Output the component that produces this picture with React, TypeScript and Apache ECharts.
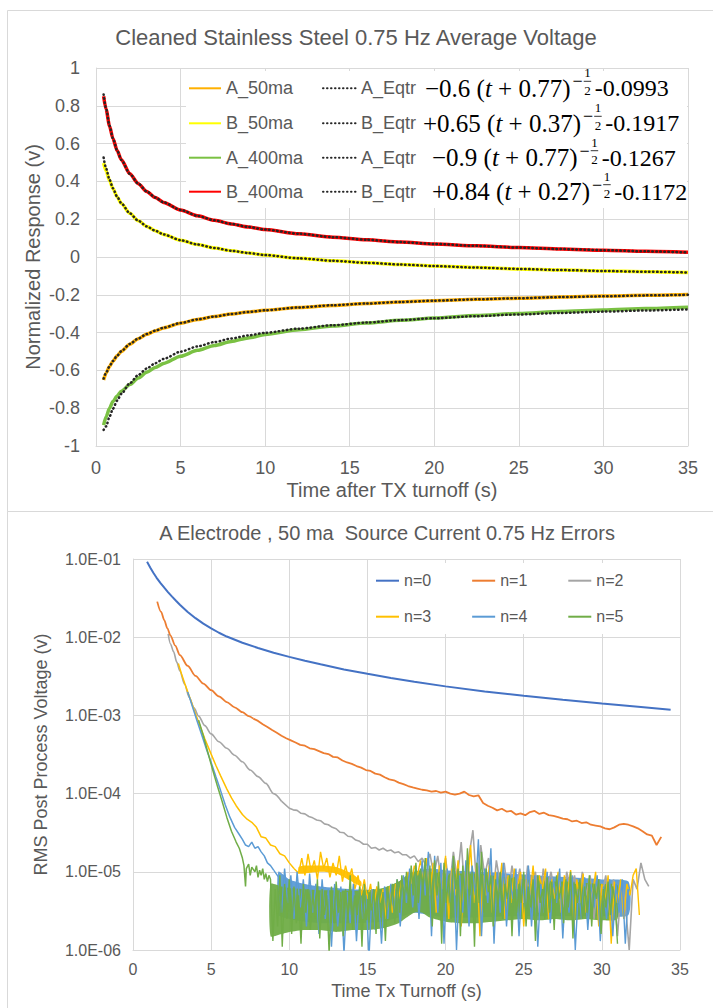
import React, { useEffect, useRef } from "react";
import * as echarts from "echarts";

const SANS = "'Liberation Sans', Arial, sans-serif";
const SERIF = "'Liberation Serif', 'Times New Roman', serif";
const GRID_C = "#D9D9D9";
const TXT_C = "#595959";

// ---------------- Top chart data ----------------
const topTitle = "Cleaned Stainless Steel 0.75 Hz Average Voltage";
const topXName = "Time after TX turnoff (s)";
const topYName = "Normalized Response (v)";
const topTimes = [0.45, 0.6, 0.8, 1, 1.25, 1.5, 2, 2.5, 3, 3.5, 4, 5, 6, 7, 8, 9, 10, 12, 14, 16, 18, 20, 22.5, 25, 27.5, 30, 32.5, 35];
const a50ma = [-0.651, -0.614, -0.579, -0.551, -0.523, -0.499, -0.461, -0.432, -0.409, -0.391, -0.375, -0.35, -0.331, -0.315, -0.302, -0.291, -0.282, -0.267, -0.256, -0.246, -0.238, -0.231, -0.224, -0.218, -0.212, -0.207, -0.203, -0.199];
const b50ma = [0.497, 0.455, 0.405, 0.362, 0.318, 0.283, 0.231, 0.192, 0.162, 0.139, 0.119, 0.089, 0.066, 0.048, 0.033, 0.021, 0.01, -0.007, -0.02, -0.031, -0.04, -0.048, -0.056, -0.063, -0.069, -0.074, -0.078, -0.082];
const a400ma = [-0.89, -0.845, -0.8, -0.765, -0.735, -0.71, -0.675, -0.64, -0.61, -0.585, -0.563, -0.525, -0.494, -0.468, -0.447, -0.428, -0.41, -0.385, -0.365, -0.349, -0.335, -0.323, -0.31, -0.299, -0.289, -0.281, -0.273, -0.266];
const b400ma = [0.85, 0.78, 0.693, 0.627, 0.563, 0.514, 0.44, 0.388, 0.347, 0.315, 0.289, 0.249, 0.218, 0.194, 0.175, 0.159, 0.145, 0.123, 0.105, 0.091, 0.079, 0.069, 0.059, 0.05, 0.042, 0.036, 0.03, 0.025];
const aEqtr50 = [-0.643, -0.612, -0.578, -0.55, -0.522, -0.498, -0.46, -0.431, -0.408, -0.39, -0.374, -0.349, -0.33, -0.315, -0.302, -0.291, -0.282, -0.267, -0.255, -0.246, -0.238, -0.231, -0.224, -0.218, -0.212, -0.208, -0.203, -0.2];
const bEqtr50 = [0.526, 0.468, 0.409, 0.364, 0.319, 0.284, 0.231, 0.192, 0.162, 0.139, 0.119, 0.089, 0.066, 0.048, 0.033, 0.021, 0.01, -0.007, -0.02, -0.031, -0.04, -0.048, -0.056, -0.063, -0.069, -0.074, -0.078, -0.082];
const aEqtr400 = [-0.915, -0.896, -0.845, -0.803, -0.76, -0.724, -0.668, -0.624, -0.59, -0.562, -0.539, -0.501, -0.473, -0.45, -0.431, -0.415, -0.401, -0.379, -0.361, -0.347, -0.334, -0.324, -0.313, -0.304, -0.296, -0.289, -0.283, -0.277];
const bEqtr400 = [0.86, 0.783, 0.695, 0.628, 0.564, 0.514, 0.44, 0.388, 0.347, 0.315, 0.289, 0.249, 0.218, 0.194, 0.175, 0.159, 0.145, 0.123, 0.105, 0.091, 0.079, 0.069, 0.059, 0.05, 0.042, 0.036, 0.03, 0.024];
const eqCoef = ["\u22120.6", "+0.65", "\u22120.9", "+0.84"];
const eqShift = ["0.77", "0.37", "0.77", "0.27"];
const eqOffset = ["-0.0993", "-0.1917", "-0.1267", "-0.1172"];

// ---------------- Bottom chart data ----------------
const botTitle = "A Electrode , 50 ma  Source Current 0.75 Hz Errors";
const botXName = "Time Tx Turnoff (s)";
const botYName = "RMS Post Process Voltage (v)";
const n0Points = [[0.9, 9.2e-2], [1.1, 7.8e-2], [1.3, 6.67e-2], [1.5, 5.79e-2], [1.75, 4.94e-2], [2.0, 4.3e-2], [2.25, 3.75e-2], [2.5, 3.3e-2], [2.75, 2.92e-2], [3.0, 2.6e-2], [3.5, 2.1e-2], [4.0, 1.75e-2], [4.5, 1.49e-2], [5.0, 1.3e-2], [5.5, 1.14e-2], [6.0, 1.02e-2], [7.0, 8.49e-3], [8.0, 7.29e-3], [9.0, 6.34e-3], [10, 5.6e-3], [11, 4.99e-3], [12, 4.5e-3], [13.5, 3.87e-3], [15, 3.4e-3], [16.5, 3.01e-3], [18, 2.7e-3], [20, 2.35e-3], [22.5, 2.02e-3], [25, 1.78e-3], [27.5, 1.58e-3], [30, 1.42e-3], [32.5, 1.28e-3], [34.4, 1.18e-3]];

const n1Points = [[1.55, 2.85e-2], [1.8, 2.1e-2], [2.0, 1.65e-2], [2.2, 1.3e-2], [2.4, 1.05e-2], [2.7, 7.8e-3], [3.0, 5.9e-3], [3.5, 4.3e-3], [4.0, 3.2e-3], [4.5, 2.55e-3], [5.0, 2.1e-3], [5.5, 1.75e-3], [6.0, 1.48e-3], [6.5, 1.27e-3], [7.0, 1.1e-3], [7.4, 9.8e-4], [7.7, 9.1e-4]];
const n1NoiseStart = 8.0;
const n1NoiseStep = 0.3;
const n1Noise = [8.5e-4, 7.7e-4, 7.1e-4, 6.5e-4, 6.0e-4, 5.5e-4, 5.1e-4, 4.8e-4, 4.5e-4, 4.2e-4,
  4.1e-4, 3.8e-4, 3.7e-4, 3.5e-4, 3.3e-4, 3.2e-4, 2.95e-4, 2.9e-4, 2.65e-4, 2.5e-4,
  2.4e-4, 2.25e-4, 2.15e-4, 2.0e-4, 1.95e-4, 1.8e-4, 1.75e-4, 1.62e-4, 1.52e-4, 1.48e-4,
  1.38e-4, 1.32e-4, 1.25e-4, 1.2e-4, 1.16e-4, 1.12e-4, 1.1e-4, 1.06e-4, 1.08e-4, 1.03e-4,
  1.06e-4, 1.0e-4, 9.7e-5, 1.0e-4, 1.06e-4, 9.6e-5, 9.2e-5, 9.5e-5, 7.6e-5, 7.0e-5,
  6.6e-5, 6.1e-5, 6.4e-5, 5.9e-5, 6.0e-5, 5.4e-5, 5.6e-5, 5.3e-5, 5.8e-5, 6.0e-5,
  5.5e-5, 5.7e-5, 5.3e-5, 5.2e-5, 5.0e-5, 4.8e-5, 4.7e-5, 4.4e-5, 4.5e-5, 4.2e-5,
  4.3e-5, 4.0e-5, 3.9e-5, 3.8e-5, 3.6e-5, 3.5e-5, 3.7e-5, 4.0e-5, 4.1e-5, 4.0e-5,
  3.8e-5, 3.6e-5, 3.3e-5, 3.0e-5, 2.9e-5, 2.2e-5, 2.8e-5];

const n2Points = [[2.25, 1.1e-2], [2.4, 8.2e-3], [2.6, 6.5e-3], [2.8, 4.8e-3], [3.0, 3.7e-3], [3.3, 2.5e-3], [3.6, 1.7e-3], [3.9, 1.25e-3], [4.2, 9.8e-4], [4.6, 7.4e-4], [5.0, 5.8e-4], [5.5, 4.6e-4], [6.0, 3.8e-4], [6.5, 3.1e-4], [7.0, 2.55e-4], [7.5, 2.0e-4], [8.0, 1.65e-4], [8.5, 1.35e-4], [9.0, 1.0e-4], [9.5, 8.0e-5]];
const n2NoiseStart = 10.0;
const n2NoiseStep = 0.25;
const n2Noise = [6.5e-5, 6.2e-5, 6.1e-5, 5.6e-5, 5.5e-5, 5.1e-5, 4.9e-5, 4.6e-5, 4.5e-5, 4.1e-5,
  4.0e-5, 3.7e-5, 3.55e-5, 3.2e-5, 3.15e-5, 2.85e-5, 2.8e-5, 2.55e-5, 2.45e-5, 2.25e-5,
  2.25e-5, 2.0e-5, 2.05e-5, 1.9e-5, 2.0e-5, 1.85e-5, 1.9e-5, 1.75e-5, 1.8e-5, 1.65e-5,
  1.65e-5, 1.5e-5, 1.6e-5, 1.35e-5, 1.5e-5, 1.2e-5, 1.7e-5, 9e-6, 1.6e-5, 7e-6,
  1.5e-5, 6e-6, 1.8e-5, 8e-6, 2.4e-5, 5e-6, 1.6e-5, 3.4e-5, 6e-6, 2.2e-5,
  9e-6, 1.5e-5, 4e-6, 1.4e-5, 7e-6, 1.3e-5, 5e-6, 1.2e-5, 6e-6, 1.1e-5,
  4e-6, 1.2e-5, 7e-6, 1.0e-5, 3e-6, 1.1e-5, 6e-6, 1.0e-5, 5e-6, 9e-6,
  3.5e-6, 1.0e-5, 6e-6, 9e-6, 4e-6, 1.0e-5, 5e-6, 9e-6, 2.5e-6, 8e-6,
  5e-6, 9e-6, 3e-6, 8e-6, 1.5e-6, 7e-6, 4e-6, 1.0e-6, 8e-6, 6e-6,
  1.3e-5, 8e-6, 6.5e-6];

const n3Points = [[2.9, 4.6e-3], [3.1, 3.4e-3], [3.3, 2.6e-3], [3.5, 2.0e-3], [3.7, 1.55e-3], [4.0, 1.05e-3], [4.3, 7.2e-4], [4.6, 5.0e-4], [5.0, 3.2e-4], [5.3, 2.3e-4], [5.6, 1.7e-4], [6.0, 1.15e-4], [6.3, 8.8e-5], [6.6, 7.0e-5], [7.0, 5.4e-5], [7.3, 4.7e-5], [7.6, 4.3e-5], [7.9, 3.7e-5], [8.2, 2.8e-5], [8.5, 2.7e-5], [8.8, 2.2e-5], [9.1, 2.1e-5], [9.4, 1.7e-5], [9.7, 1.6e-5], [10.0, 1.3e-5], [10.3, 1.1e-5]];
const n3NoiseStart = 10.6;
const n3NoiseStep = 0.2;
const n3Noise = [9.6e-6, 1.5e-5, 9e-6, 1.7e-5, 1.0e-5, 1.4e-5, 8e-6, 1.8e-5, 1.1e-5, 1.5e-5,
  8.5e-6, 1.3e-5, 9e-6, 1.6e-5, 7.5e-6, 1.2e-5, 8e-6, 1.1e-5, 6e-6, 9e-6,
  5e-6, 8e-6, 4.5e-6, 7e-6, 3.5e-6, 6.5e-6, 4e-6, 6e-6, 2.5e-6, 6.5e-6,
  3e-6, 7e-6, 4.5e-6, 8e-6, 6e-6, 1.0e-5, 7e-6, 1.2e-5, 9e-6, 1.4e-5,
  8e-6, 1.5e-5, 5e-6, 1.3e-5, 3e-6, 1.2e-5, 6e-6, 1.6e-5, 2.5e-6, 1.1e-5,
  5e-6, 1.4e-5, 2e-6, 1.0e-5, 6e-6, 2.2e-5, 4e-6, 1.3e-5, 1.5e-6, 9e-6,
  5e-6, 1.2e-5, 3e-6, 1.0e-5, 5.5e-6, 1.3e-5, 2.5e-6, 9e-6, 4e-6, 1.1e-5,
  6e-6, 1.0e-5, 2e-6, 8e-6, 5e-6, 1.2e-5, 3.5e-6, 9e-6, 6e-6, 1.1e-5,
  2.5e-6, 8e-6, 4.5e-6, 1.0e-5, 3e-6, 9e-6, 5e-6, 1.05e-5, 1.8e-6, 8e-6,
  4e-6, 9.5e-6, 3e-6, 8e-6, 5e-6, 1.0e-5, 2e-6, 7e-6, 4e-6, 9e-6,
  1.2e-6, 7.5e-6, 4e-6, 8e-6, 2.5e-6, 7e-6, 5e-6, 9e-6, 1.1e-5, 2.8e-6];
const n3BandT = [10.6, 11, 12, 13, 14, 14.6];
const n3BandLow = [9.5e-6, 9.5e-6, 1.0e-5, 9.5e-6, 7.5e-6, 6.5e-6];
const n3BandHigh = [1.15e-5, 1.2e-5, 1.2e-5, 1.15e-5, 9.5e-6, 7.5e-6];

const n4Points = [[3.5, 2.0e-3], [3.8, 1.3e-3], [4.1, 8.5e-4], [4.4, 5.6e-4], [4.7, 3.7e-4], [5.0, 2.5e-4], [5.3, 1.65e-4], [5.6, 1.1e-4], [5.9, 7.2e-5], [6.2, 5.0e-5], [6.5, 3.7e-5], [6.8, 3.0e-5], [7.0, 2.6e-5], [7.2, 2.2e-5], [7.4, 2.1e-5], [7.6, 2.4e-5], [7.8, 2.0e-5], [8.0, 2.1e-5], [8.2, 1.8e-5], [8.4, 1.6e-5], [8.6, 1.3e-5], [8.8, 1.2e-5], [9.0, 1.05e-5]];
const n4NoiseStart = 9.3;
const n4NoiseStep = 0.2;
const n4Noise = [8.6e-6, 3e-6, 1.1e-5, 4e-6, 9e-6, 2.5e-6, 1.0e-5, 3.5e-6, 8e-6, 2e-6,
  9.5e-6, 3e-6, 7e-6, 1.6e-6, 8e-6, 2.5e-6, 6e-6, 1.1e-6, 7e-6, 2e-6,
  6.5e-6, 9e-7, 5.5e-6, 2.2e-6, 7e-6, 1.3e-6, 6e-6, 2.5e-6, 5e-6, 8e-7,
  6e-6, 1.8e-6, 5.5e-6, 1.2e-6, 6.5e-6, 2.5e-6, 7e-6, 3e-6, 8e-6, 2e-6,
  9e-6, 4e-6, 1.1e-5, 3.5e-6, 1.2e-5, 2.5e-6, 1.4e-5, 5e-6, 1.8e-5, 1.5e-6,
  1.6e-5, 3e-6, 1.3e-5, 1.2e-6, 1.1e-5, 4e-6, 1.5e-5, 1.0e-6, 9e-6, 3e-6,
  1.4e-5, 2e-6, 1.2e-5, 5e-6, 2.6e-5, 1.5e-6, 1.1e-5, 4e-6, 2.0e-5, 1.2e-6,
  1.0e-5, 3e-6, 1.3e-5, 2e-6, 9e-6, 4.5e-6, 1.1e-5, 1.5e-6, 8e-6, 3.5e-6,
  1.2e-5, 2e-6, 9e-6, 1.1e-6, 7e-6, 3e-6, 1.0e-5, 2.2e-6, 8e-6, 4e-6,
  1.1e-5, 1.4e-6, 7.5e-6, 3e-6, 9e-6, 1.0e-6, 6e-6, 2.5e-6, 8.5e-6, 1.8e-6,
  7e-6, 3.5e-6, 9e-6, 1.3e-6, 6.5e-6, 2.5e-6, 8e-6, 1.5e-6, 7e-6, 3e-6,
  8e-6, 1.2e-6, 6e-6];
const n4BandT = [9.3, 10, 11, 12, 14, 16, 17, 18, 19, 20, 22, 24, 26, 28, 30, 31.7];
const n4BandLow = [2.8e-6, 2.5e-6, 2.3e-6, 2.2e-6, 2.2e-6, 2.3e-6, 2.6e-6, 3e-6, 2.8e-6, 2.6e-6, 2.6e-6, 2.7e-6, 2.7e-6, 2.7e-6, 2.7e-6, 2.8e-6];
const n4BandHigh = [1.0e-5, 8e-6, 7e-6, 6.5e-6, 6e-6, 6e-6, 7.5e-6, 1.0e-5, 1.1e-5, 1.05e-5, 1.0e-5, 9.5e-6, 9e-6, 8.5e-6, 8e-6, 7.5e-6];

const n5Points = [[4.2, 8.7e-4], [4.5, 5.5e-4], [4.8, 3.3e-4], [5.1, 2.0e-4], [5.4, 1.25e-4], [5.7, 8e-5], [6.0, 5e-5], [6.3, 3.3e-5], [6.6, 2.4e-5], [6.8, 2.0e-5], [7.0, 1.5e-5], [7.1, 1.2e-5], [7.2, 6.5e-6], [7.25, 1.1e-5], [7.4, 1.25e-5], [7.5, 9e-6], [7.6, 1.15e-5], [7.8, 1.0e-5], [7.9, 1.2e-5], [8.0, 8.5e-6], [8.1, 1.05e-5], [8.2, 9e-6], [8.3, 1.1e-5], [8.4, 8e-6], [8.5, 9.5e-6], [8.6, 7.5e-6], [8.7, 9e-6]];
const n5NoiseStart = 8.8;
const n5NoiseStep = 0.15;
const n5Noise = [8e-6, 1.3e-6, 6e-6, 2e-6, 9e-6, 1.1e-6, 7e-6, 2.5e-6, 8e-6, 1.6e-6,
  6.5e-6, 2.2e-6, 5e-6, 1.2e-6, 7e-6, 3e-6, 6e-6, 1.8e-6, 5.5e-6, 2.5e-6,
  8e-6, 1.4e-6, 6e-6, 2.8e-6, 5e-6, 9e-7, 6.5e-6, 2.2e-6, 7.5e-6, 3e-6,
  5.5e-6, 1.5e-6, 6e-6, 2.5e-6, 9e-6, 1.8e-6, 5e-6, 2.8e-6, 6.5e-6, 1.1e-6,
  7e-6, 2.4e-6, 5.5e-6, 3.2e-6, 6e-6, 1.6e-6, 7.5e-6, 2.6e-6, 5.5e-6, 1.3e-6,
  6.5e-6, 3e-6, 7e-6, 2.2e-6, 8e-6, 3e-6, 9e-6, 4e-6, 1.0e-5, 3.5e-6,
  1.2e-5, 5e-6, 1.3e-5, 4e-6, 1.1e-5, 6e-6, 1.5e-5, 3e-6, 1.2e-5, 2e-6,
  1.4e-5, 5e-6, 1.0e-5, 1.2e-6, 1.3e-5, 4e-6, 9e-6, 2.5e-6, 1.6e-5, 6e-6,
  1.1e-5, 1.5e-6, 1.2e-5, 3.5e-6, 2.0e-5, 5e-6, 1.0e-5, 1.1e-6, 1.3e-5, 4e-6,
  1.8e-5, 3e-6, 1.1e-5, 5.5e-6, 9e-6, 2e-6, 8e-6, 3.5e-6, 1.0e-5, 2.5e-6,
  7e-6, 4.5e-6, 9e-6, 1.5e-6, 8.5e-6, 3e-6, 7e-6, 4e-6, 1.0e-5, 2e-6,
  6.5e-6, 3.5e-6, 8e-6, 1.3e-6, 9e-6, 4e-6, 6e-6, 2.5e-6, 8.5e-6, 3e-6,
  7.5e-6, 1.8e-6, 9e-6, 4.5e-6, 6.5e-6, 2.2e-6, 8e-6, 3.5e-6, 1.0e-5, 1.4e-6,
  7e-6, 4e-6, 8e-6, 2.5e-6, 6.5e-6, 3e-6, 9e-6, 2e-6, 7e-6, 4.5e-6,
  8e-6, 1.6e-6, 6e-6, 3.5e-6, 7.5e-6, 2.8e-6, 6.5e-6, 4e-6, 1.2e-6];
const n5BandT = [8.8, 9.5, 10, 11, 12, 13, 14, 15, 16, 17, 17.5, 18, 18.5, 19, 20, 21, 22, 23, 24, 25, 26, 27, 28, 29, 30, 31];
const n5BandLow = [1.5e-6, 1.6e-6, 1.7e-6, 1.8e-6, 1.8e-6, 1.7e-6, 1.8e-6, 1.8e-6, 1.9e-6, 2.2e-6, 2.6e-6, 3.0e-6, 3.0e-6, 2.6e-6, 2.3e-6, 2.2e-6, 2.2e-6, 2.3e-6, 2.4e-6, 2.5e-6, 2.4e-6, 2.5e-6, 2.4e-6, 2.5e-6, 2.4e-6, 2.5e-6];
const n5BandHigh = [7e-6, 6.5e-6, 6.2e-6, 6e-6, 5.8e-6, 5.8e-6, 5.7e-6, 5.8e-6, 6.2e-6, 7.5e-6, 9e-6, 1.0e-5, 1.05e-5, 1.0e-5, 9.5e-6, 9.5e-6, 9.5e-6, 9e-6, 8.5e-6, 8e-6, 7.8e-6, 7.5e-6, 7.5e-6, 7.2e-6, 7e-6, 6.8e-6];

// ---------------- helpers ----------------
function zip(xs: number[], ys: number[]) {
  return xs.map((x, i) => [x, ys[i]]);
}
function noiseSeries(points: number[][], start: number, step: number, noise: number[]) {
  return [points[points.length - 1]].concat(noise.map((v, i) => [+(start + i * step).toFixed(2), v]));
}
function logLabel(v: number) {
  const e = Math.round(Math.log10(v));
  return "1.0E" + (e < 0 ? "-" : "+") + String(Math.abs(e)).padStart(2, "0");
}

function buildOption() {
  const canvas = document.createElement("canvas");
  const ctx = canvas.getContext("2d") as CanvasRenderingContext2D;
  const mw = (t: string, size: number, italic = false) => {
    ctx.font = `${italic ? "italic " : ""}${size}px ${SERIF}`;
    return ctx.measureText(t).width;
  };

  const graphics: any[] = [
    { type: "rect", shape: { x: 7.5, y: 10.5, width: 720, height: 501 }, style: { fill: "none", stroke: GRID_C, lineWidth: 1 } },
    { type: "rect", shape: { x: 7.5, y: 511.5, width: 720, height: 510 }, style: { fill: "none", stroke: GRID_C, lineWidth: 1 } },
    { type: "rect", z: 1, shape: { x: 186, y: 71, width: 501, height: 137 }, style: { fill: "#fff" } },
    { type: "rect", z: 1, shape: { x: 371, y: 563, width: 305, height: 71 }, style: { fill: "#fff" } },
    { type: "text", x: 356, y: 37, style: { text: topTitle, fontSize: 22, fontFamily: SANS, fill: TXT_C, align: "center", verticalAlign: "middle" } },
    { type: "text", x: 387, y: 533, style: { text: botTitle, fontSize: 20, fontFamily: SANS, fill: TXT_C, align: "center", verticalAlign: "middle" } },
  ];

  const eqStartX = [425, 423, 432, 432];
  const rowY = [88.3, 123.3, 157.7, 191.7];
  const txt = (t: string, x: number, y: number, size: number, italic = false) => ({
    type: "text", z: 6, x, y,
    style: { text: t, fontSize: size, fontFamily: SERIF, fontStyle: italic ? "italic" : "normal", fill: "#000", align: "left", verticalAlign: "middle" },
  });
  for (let r = 0; r < 4; r++) {
    let x = eqStartX[r];
    const c = rowY[r];
    const f1 = `${eqCoef[r]} (`;
    graphics.push(txt(f1, x, c, 25));
    x += mw(f1, 25);
    graphics.push(txt("t", x, c, 25, true));
    x += mw("t", 25, true);
    const f3 = ` + ${eqShift[r]})`;
    graphics.push(txt(f3, x, c, 25));
    x += mw(f3, 25) + 2;
    graphics.push(txt("\u2212", x, c - 7, 18));
    x += mw("\u2212", 18) + 1.5;
    const fw = mw("1", 13);
    graphics.push(txt("1", x, c - 15.5, 13));
    graphics.push({ type: "line", z: 6, shape: { x1: x - 0.5, y1: c - 7, x2: x + fw + 0.5, y2: c - 7 }, style: { stroke: "#000", lineWidth: 0.8 } });
    graphics.push(txt("2", x, c + 2, 13));
    x += fw + 4;
    graphics.push(txt(eqOffset[r], x, c, 24));
  }

  const mkLegend = (names: string[], left: number, cy: number, itemWidth: number, fontSize: number, itemGap = 10) => ({
    data: names, left, top: cy - fontSize / 2, orient: "horizontal", padding: 0, itemGap, itemWidth, itemHeight: 14,
    selectedMode: false, itemStyle: { opacity: 0 },
    textStyle: { color: TXT_C, fontSize, fontFamily: SANS },
    formatter: (n: string) => n.replace(/_(50|400)$/, ""),
  });
  const topLegendRows = [["A_50ma", "A_Eqtr_50"], ["B_50ma", "B_Eqtr_50"], ["A_400ma", "A_Eqtr_400"], ["B_400ma", "B_Eqtr_400"]];
  const legends: any[] = [];
  topLegendRows.forEach((pair, r) => {
    legends.push(mkLegend([pair[0]], 188, rowY[r], 32, 18));
    legends.push(mkLegend([pair[1]], 322, rowY[r], 33, 18));
  });
  legends.push(mkLegend(["n=0", "n=1", "n=2"], 375, 580.7, 23, 16, 40));
  legends.push(mkLegend(["n=3", "n=4", "n=5"], 375, 616.7, 23, 16, 40));

  const solid = (name: string, data: number[], color: string) => ({
    name, type: "line", xAxisIndex: 0, yAxisIndex: 0, data: zip(topTimes, data), symbol: "none",
    smooth: 0.25, smoothMonotone: "x", z: 2, lineStyle: { color, width: 3.5 }, itemStyle: { color },
  });
  const dotted = (name: string, data: number[]) => ({
    name, type: "line", xAxisIndex: 0, yAxisIndex: 0, data: zip(topTimes, data), symbol: "none",
    smooth: 0.25, smoothMonotone: "x", z: 3, lineStyle: { color: "#262626", width: 2.5, type: [0.5, 3.5], cap: "round" }, itemStyle: { color: "#262626" },
  });
  const bot = (name: string, data: number[][], color: string, width: number, smooth: any = false) => ({
    name, type: "line", xAxisIndex: 1, yAxisIndex: 1, data, symbol: "none", smooth, smoothMonotone: smooth ? "x" : undefined,
    lineStyle: { color, width }, itemStyle: { color },
  });
  const band = (name: string, ts: number[], lo: number[], hi: number[], color: string) => ({
    name, type: "custom", xAxisIndex: 1, yAxisIndex: 1, data: [[ts[0], lo[0]]], silent: true, clip: true,
    renderItem: (_p: any, api: any) => {
      const pts: number[][] = [];
      ts.forEach((t, i) => pts.push(api.coord([t, hi[i]])));
      for (let i = ts.length - 1; i >= 0; i--) pts.push(api.coord([ts[i], lo[i]]));
      return { type: "polygon", shape: { points: pts, smooth: 0.2 }, style: { fill: color, opacity: 0.95 } };
    },
  });

  const axisCommon = {
    axisLine: { show: true, onZero: false, lineStyle: { color: GRID_C } },
    axisTick: { show: false },
    splitLine: { show: true, lineStyle: { color: GRID_C, width: 1 } },
    nameMoveOverlap: false,
  };

  return {
    animation: false,
    backgroundColor: "#fff",
    grid: [
      { left: 96, top: 68, width: 592, height: 378, outerBoundsMode: "none", containLabel: false },
      { left: 133, top: 559, width: 547, height: 391, outerBoundsMode: "none", containLabel: false },
    ],
    xAxis: [
      {
        ...axisCommon, type: "value", gridIndex: 0, min: 0, max: 35, interval: 5,
        axisLabel: { color: TXT_C, fontSize: 18, margin: 13, fontFamily: SANS },
        name: topXName, nameLocation: "middle", nameGap: 34,
        nameTextStyle: { color: TXT_C, fontSize: 20, fontFamily: SANS },
      },
      {
        ...axisCommon, type: "value", gridIndex: 1, min: 0, max: 35, interval: 5,
        axisLabel: { color: TXT_C, fontSize: 16, margin: 11, fontFamily: SANS },
        name: botXName, nameLocation: "middle", nameGap: 32,
        nameTextStyle: { color: TXT_C, fontSize: 18, fontFamily: SANS },
      },
    ],
    yAxis: [
      {
        ...axisCommon, type: "value", gridIndex: 0, min: -1, max: 1, interval: 0.2,
        axisLabel: { color: TXT_C, fontSize: 18, margin: 16, fontFamily: SANS },
        name: topYName, nameLocation: "middle", nameGap: 53,
        nameTextStyle: { color: TXT_C, fontSize: 20, fontFamily: SANS },
      },
      {
        ...axisCommon, type: "log", logBase: 10, gridIndex: 1, min: 1e-6, max: 1e-1,
        axisLabel: { color: TXT_C, fontSize: 16, margin: 12, fontFamily: SANS, formatter: logLabel },
        minorTick: { show: false }, minorSplitLine: { show: false },
        name: botYName, nameLocation: "middle", nameGap: 83,
        nameTextStyle: { color: TXT_C, fontSize: 18, fontFamily: SANS },
      },
    ],
    legend: legends,
    graphic: graphics,
    series: [
      solid("A_50ma", a50ma, "#FFB000"),
      solid("B_50ma", b50ma, "#FFFF00"),
      solid("A_400ma", a400ma, "#7AC143"),
      solid("B_400ma", b400ma, "#FF0000"),
      dotted("A_Eqtr_50", aEqtr50),
      dotted("B_Eqtr_50", bEqtr50),
      dotted("A_Eqtr_400", aEqtr400),
      dotted("B_Eqtr_400", bEqtr400),
      bot("n=0", n0Points, "#4472C4", 2),
      bot("n=1", n1Points, "#ED7D31", 1.8, 0.3),
      bot("n=1", noiseSeries(n1Points, n1NoiseStart, n1NoiseStep, n1Noise), "#ED7D31", 1.8),
      bot("n=2", n2Points, "#A5A5A5", 1.6, 0.3),
      bot("n=2", noiseSeries(n2Points, n2NoiseStart, n2NoiseStep, n2Noise), "#A5A5A5", 1.6),
      band("n=3 band", n3BandT, n3BandLow, n3BandHigh, "#FFC000"),
      bot("n=3", n3Points, "#FFC000", 1.5),
      bot("n=3", noiseSeries(n3Points, n3NoiseStart, n3NoiseStep, n3Noise), "#FFC000", 1.4),
      band("n=4 band", n4BandT, n4BandLow, n4BandHigh, "#5B9BD5"),
      bot("n=4", n4Points, "#5B9BD5", 1.5),
      bot("n=4", noiseSeries(n4Points, n4NoiseStart, n4NoiseStep, n4Noise), "#5B9BD5", 1.4),
      band("n=5 band", n5BandT, n5BandLow, n5BandHigh, "#70AD47"),
      bot("n=5", n5Points, "#70AD47", 1.5),
      bot("n=5", noiseSeries(n5Points, n5NoiseStart, n5NoiseStep, n5Noise), "#70AD47", 1.4),
    ],
  };
}

export default function App() {
  const ref = useRef<HTMLDivElement>(null);
  useEffect(() => {
    document.body.style.margin = "0";
    const el = ref.current as HTMLDivElement;
    const chart = echarts.init(el, null, { renderer: "svg" });
    chart.setOption(buildOption() as any);
    return () => chart.dispose();
  }, []);
  return <div ref={ref} style={{ width: 713, height: 1008 }} />;
}
